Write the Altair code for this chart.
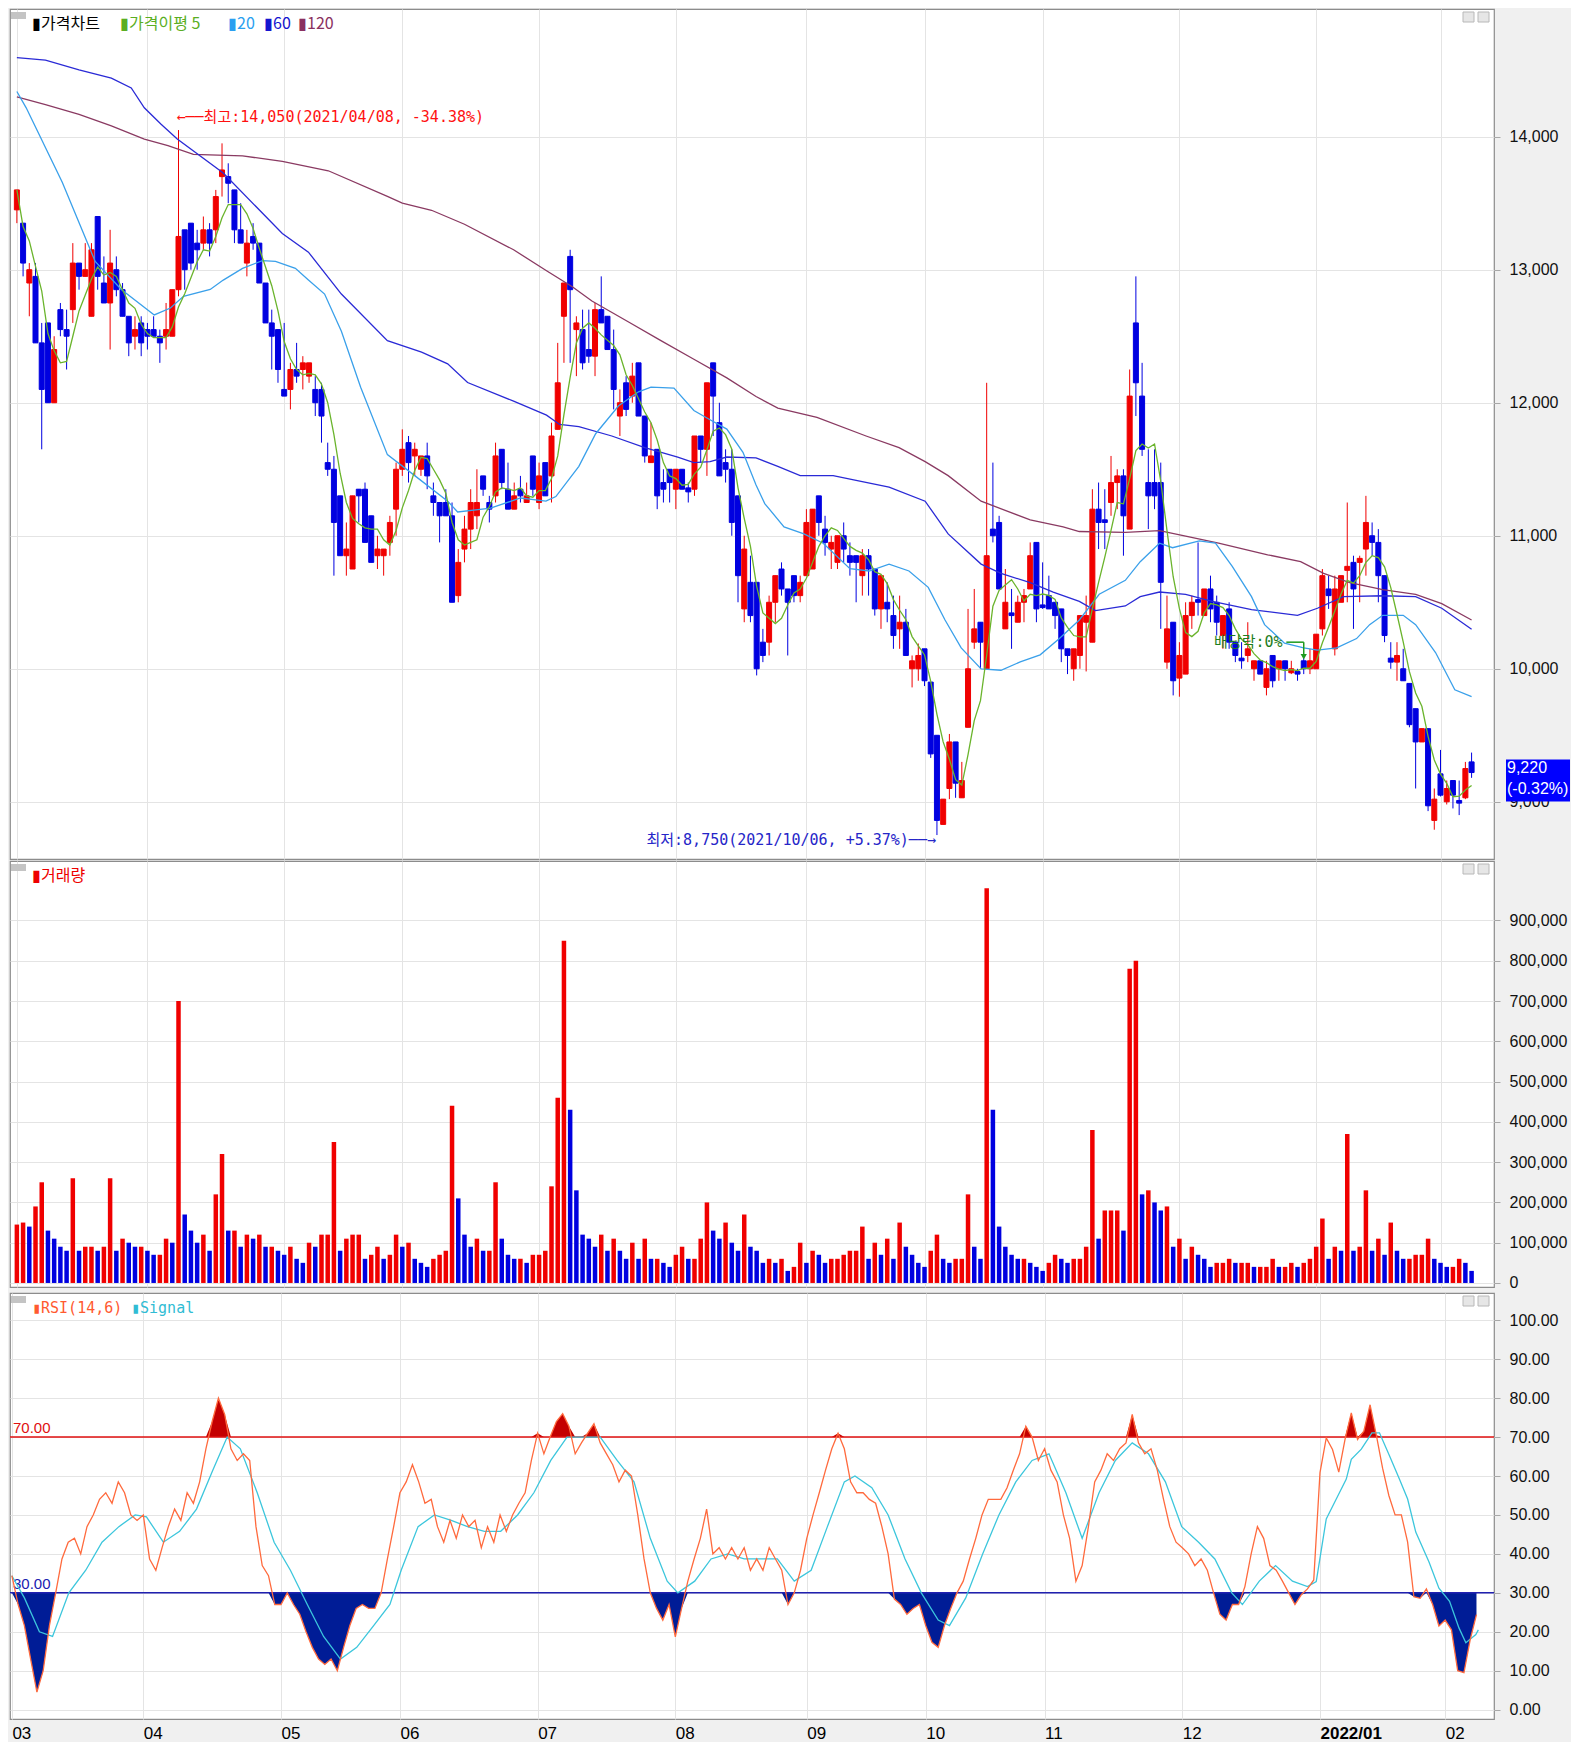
import altair as alt
import numpy as np
import pandas as pd

# ---------------------------------------------------------------- data
OPEN = [13450,13350,12900,12950,12450,12600,12000,12700,12550,12700,
        13050,12950,12650,13400,12900,12750,13000,12850,12650,12500,
        12600,12550,12550,12500,12500,12500,12850,13300,13350,13200,
        13200,13300,13300,13700,13700,13600,13300,13050,13250,13200,
        12900,12600,12550,12100,12100,12250,12250,12200,12100,12100,
        11550,11500,11300,10850,10750,11350,11350,11150,10850,10850,
        10950,11200,11500,11700,11600,11500,11600,11300,11250,11250,
        11150,10550,10900,11050,11150,11450,11250,11300,11650,11350,
        11200,11350,11250,11600,11250,11550,11450,11800,12650,13100,
        12550,12550,12400,12350,12700,12650,12400,11900,12150,12050,
        12300,11900,11550,11650,11400,11500,11350,11500,11360,11350,
        11750,11650,12300,11850,11550,11500,11300,10450,10650,10650,
        10200,10200,10500,10750,10600,10700,10550,10700,10750,11300,
        11050,10900,10800,11000,10850,10850,10700,10850,10750,10450,
        10500,10400,10300,10350,10000,10000,10150,9900,9500,8830,
        9100,9450,9030,9560,10200,10350,10000,11050,11100,10300,
        10420,10350,10500,10600,10950,10480,10550,10500,10450,10150,
        10000,10100,10350,10200,11200,11120,11250,11400,11450,11050,
        12600,12050,11400,11400,11400,10050,10350,9930,9960,10400,
        10520,10400,10600,10500,10250,10450,10200,10080,10100,10000,
        10060,9860,10100,10000,10060,9970,9980,10060,10000,10000,
        10300,10600,10150,10500,10740,10800,10800,10900,11000,10950,
        10700,10080,10050,10000,9890,9700,9450,9550,8860,9210,
        9000,9160,9010,9030,9300]
HIGH = [13600,13350,13050,13050,12600,12600,12500,12750,12700,13200,
        13050,13200,13200,13400,13100,13300,13100,12900,12650,12650,
        12650,12600,12650,12550,12750,12850,14050,13300,13350,13300,
        13400,13350,13600,13950,13800,13600,13500,13300,13350,13200,
        12900,12700,12550,12600,12300,12450,12350,12300,12200,12150,
        11700,11600,11300,11100,11300,11350,11400,11150,11000,10900,
        11150,11550,11800,11750,11700,11600,11700,11400,11250,11350,
        11250,10900,11150,11350,11500,11450,11300,11700,11650,11550,
        11400,11450,11400,11600,11550,11550,11850,12450,12900,13150,
        12650,12700,12700,12750,12950,12650,12550,12100,12200,12300,
        12300,11900,11850,11650,11500,11500,11500,11500,11400,11750,
        11750,12150,12300,12000,11650,11650,11300,11000,10850,10650,
        10300,10550,10700,10800,10600,10700,10700,11200,11200,11300,
        11150,11000,11000,11100,10950,10850,10900,10900,10750,10700,
        10650,10550,10550,10450,10100,10190,10150,9900,9500,9020,
        9510,9450,9300,10450,10600,10350,12150,11550,11150,10750,
        10600,10550,10600,10950,10950,10800,10700,10500,10450,10150,
        10150,10400,10550,11350,11400,11350,11600,11500,11500,12250,
        12950,12300,11650,11650,11550,10550,10350,10200,10500,10550,
        10950,10600,10700,10550,10400,10500,10200,10200,10350,10060,
        10060,10060,10100,10060,10060,10060,10000,10100,10150,10260,
        10750,10700,10700,10700,11250,10850,10850,11300,11100,11050,
        10700,10200,10200,10150,9890,9700,9550,9550,9100,9390,
        9160,9160,9160,9300,9370]
LOW = [13350,12950,12650,12450,11650,12000,12000,12500,12250,12600,
       12850,12950,12650,12850,12750,12400,12800,12650,12350,12400,
       12350,12400,12500,12300,12400,12500,12800,12850,13000,13000,
       13150,13100,13200,13550,13500,13200,13200,12950,13150,12900,
       12600,12250,12150,12050,11950,12150,12100,12150,11900,11700,
       11450,10700,10850,10700,10750,11100,10950,10800,10750,10700,
       10850,11000,11450,11400,11450,11450,11350,11150,10950,11150,
       10500,10500,10800,10900,11050,11300,11100,11250,11350,11200,
       11200,11250,11250,11300,11200,11300,11250,11800,12300,12300,
       12200,12250,12300,12200,12600,12400,11950,11750,11900,12000,
       11900,11550,11550,11200,11250,11250,11200,11350,11250,11300,
       11550,11450,11750,11450,11400,11000,10500,10350,10350,9950,
       10050,10100,10350,10550,10100,10500,10500,10700,10750,11000,
       10850,10750,10750,10800,10700,10500,10550,10550,10400,10300,
       10350,10150,10150,10100,9860,9910,9870,9330,8750,8830,
       9020,9030,9030,9560,10150,10000,10000,10950,10600,10300,
       10150,10350,10350,10600,10350,10450,10450,10300,10050,9960,
       9910,10000,9980,10200,10900,10900,11150,11200,10850,11050,
       11900,11600,11050,11200,10300,10000,9800,9790,9960,10300,
       10400,10400,10350,10250,10150,10150,10050,10000,10050,9910,
       9960,9800,9860,9910,9910,9960,9910,9960,9960,10000,
       10250,10450,10100,10500,10500,10300,10500,10700,10850,10500,
       10200,10000,9910,9910,9560,9100,9450,8930,8790,9040,
       8980,8950,8900,9020,9180]
CLOSE = [13600,13050,13000,12450,12100,12000,12400,12550,12500,13050,
         12950,13000,13150,12950,12750,13050,12850,12650,12450,12550,
         12450,12500,12500,12450,12550,12850,13250,13000,13050,13150,
         13300,13200,13550,13750,13650,13300,13200,13200,13200,12900,
         12600,12500,12250,12050,12250,12200,12300,12300,12000,11900,
         11500,11100,10850,10900,11300,11300,10950,10800,10900,10900,
         11100,11500,11650,11550,11650,11600,11450,11250,11150,11150,
         10500,10800,11050,11250,11250,11350,11200,11600,11400,11200,
         11300,11300,11300,11350,11450,11300,11750,12150,12900,12850,
         12600,12300,12350,12700,12600,12400,12100,12000,11950,12200,
         11900,11600,11600,11300,11350,11400,11500,11350,11330,11750,
         11650,12150,12050,11450,11500,11100,10700,10900,10400,10000,
         10100,10500,10700,10600,10500,10550,10650,11100,11200,11100,
         10950,10950,11000,10900,10800,10800,10850,10750,10450,10700,
         10450,10250,10350,10100,10060,10100,9910,9360,8860,9020,
         9450,9140,9160,10000,10300,10200,10850,11000,10600,10500,
         10400,10500,10550,10850,10450,10460,10450,10400,10150,10100,
         10150,10400,10400,11200,11100,11100,11400,11450,11150,12050,
         12150,11650,11300,11300,10650,10300,9910,10100,10400,10500,
         10500,10600,10450,10350,10400,10200,10100,10060,10150,10060,
         9960,10000,9910,10060,10000,10000,9960,10000,10060,10260,
         10700,10550,10600,10700,10770,10600,10830,11100,10950,10700,
         10250,10050,10100,9910,9580,9450,9550,8970,9020,9050,
         9100,9050,8990,9250,9220]
VOLUME_K = [145,150,140,190,250,130,110,90,80,260,
            80,90,90,80,90,260,80,110,100,90,
            90,80,70,70,110,100,700,170,130,100,
            120,80,220,320,130,130,90,120,110,120,
            90,90,80,70,90,60,50,100,90,120,
            120,350,80,110,120,120,60,70,90,60,
            70,120,90,100,60,50,40,60,70,80,
            440,210,120,90,110,80,80,250,110,70,
            60,60,50,70,70,80,240,460,850,430,
            230,120,110,90,120,80,110,80,60,100,
            60,110,60,60,50,40,70,90,60,60,
            110,200,130,110,150,100,80,170,90,80,
            50,60,50,60,30,40,100,50,80,70,
            50,60,60,70,80,80,140,60,100,70,
            110,60,150,90,70,50,40,80,120,60,
            50,60,60,220,90,60,980,430,140,90,
            70,60,60,50,40,30,50,70,60,50,
            60,60,90,380,110,180,180,180,130,780,
            800,220,230,200,180,190,90,110,60,90,
            70,60,40,50,50,60,50,50,50,40,
            40,40,60,40,40,50,40,50,60,90,
            160,60,90,80,370,80,90,230,80,110,
            70,150,80,60,60,70,70,110,60,50,
            40,40,60,50,30]
RSI = [34.4,27,21.6,13,4.5,10,21.6,30,38.7,43,
       44,40,47,50,54,55.7,53,58.5,55.7,50,
       48.6,50,38.7,35.8,41.6,47,51.5,48.6,55.7,53,
       58.5,67,74,80,75.8,67,64,65.7,64,47,
       37,34.4,27,27,30,27,24.5,20,16,13,
       11.6,13,10,16,21.6,26,27,26,26,30,
       38.7,47,55.7,58.5,62.9,58.5,53,54,47,43,
       48.6,44,50,47,48.6,41.6,47,43,50,45.8,
       50,53,55.7,64,71,65.7,70,74,76,72.8,
       65.7,68.5,71,73.4,68.5,65.7,62.9,58.5,61.5,60,
       50,38.7,30,26,23,27,18.7,26,33,38.7,
       44,51.5,40,41.6,38.7,41.6,38.7,41.6,35.8,38.7,
       35.8,41.6,38.7,35.8,27,30,35.8,44,50,55.7,
       61.5,67,71,67,58.5,55.7,55.7,54,53,47,
       40,28.4,27,24.5,26,27,21.6,17.3,16,21.6,
       26,30,33,38.7,44,50,54,54,54,57,
       61.5,65.7,72.8,70,64,67,61.5,58.5,50,44,
       33,37,47,58.5,61.5,65.7,64,67,68.5,75.8,
       68.5,65.7,67,61.5,54,47,43,41.6,40,37,
       38.7,35.8,30,24.5,23,27,27,31.6,40,47,
       44,37,35.8,33,30,27,29.5,31,33.3,60.9,
       69.8,66.8,61,69.4,76.2,69.4,71.5,78.3,70.5,62,
       55,50,50,43,29,28.6,31,27,21.5,23,
       20.5,10,9.5,18,24.4]
SIGNAL_X = [0,2,4.4,6.5,9.1,11.8,14.4,17.1,19.7,21.5,24.2,26.8,29.5,32.1,34.4,36.5,39.2,41.9,
            44.5,47.2,49.8,52.5,55.1,57.8,60.4,62.2,64.9,67.5,70.2,72.8,75.5,78.1,80.8,83.4,
            86.1,88.7,91.4,94,96.7,99.4,102,104.7,106.4,109.1,111.7,114.4,117,119.7,122.3,125,
            127.7,130.3,133,134.7,137.4,140,142.7,145.3,148,149.8,152.4,155.1,157.7,160.4,163,
            165.7,168.4,171,173.7,176.3,179,181.6,184.3,186.9,189.6,192.2,194.9,196.6,199.3,
            201.9,204.6,207,208.4,210,211.6,213.2,214,215.6,217.3,218.5,220.1,221.7,223,224.3,
            226.4,228,229.7,231.2,232.3,233.9,234.3]
SIGNAL_Y = [34.4,28.7,20,18.8,30,35.8,43,47,50,49.5,43,45.8,51.5,61.5,70,67,55.7,43,
            35.8,27,18.8,13,16,21.6,27,35.8,47,50,48.6,47,45.8,45.8,50,55.7,
            64,70,70,70,64,58.5,44,33,30,33,38.7,40,38.7,38.7,38.7,33,
            35.8,47,58.5,60,57,50,38.7,30,23,21.6,28.7,40,50,58.5,64,
            65.7,55.7,44,55.7,64,68.5,65.7,58.5,47,43,38.7,30,27,33,
            37,33,31.6,32.9,49,54.1,59.2,64.3,66.9,71.1,71.1,65.2,59.2,54.1,45.6,
            38,31.2,27.8,21,17.2,19.3,20.5]
MA20_X = [0,1.5,7.3,12.6,16.8,22.1,24.7,26.8,31.1,33.2,36.3,39.5,41.6,44.8,46.9,49.5,52.2,55.3,59.6,
          64,69.3,70.9,76.2,81,85.1,86.7,90.4,93.1,96.8,100,102,105.7,108.9,111.5,114.2,116.8,118.9,
          120.3,123.4,126.6,129.7,134,137.1,140.3,143.5,146.6,149.3,151.9,155.1,158.3,161.4,164.6,
          167.7,170.9,174.1,178.3,180.7,183.8,185.9,190.2,192.8,195.5,198.6,200.7,203.9,207,209.2,
          212.3,215.5,217.6,219.7,223,225,228.2,231.3,234]
MA20_Y = [14340,14217,13657,13062,12852,12660,12712,12800,12852,12922,13010,13069,13062,13010,12922,12817,12537,12117,11610,
          11452,11260,11179,11207,11284,11260,11295,11522,11767,11977,12082,12117,12110,11942,11872,11802,11627,11382,
          11242,11067,11014,10944,10752,10735,10787,10735,10612,10367,10157,9999,9989,10052,10105,
          10227,10367,10560,10665,10805,10944,10910,10962,10944,10770,10542,10332,10192,10157,10140,
          10157,10227,10332,10402,10402,10332,10122,9842,9790]
MA60_X = [0,4.6,10,15.2,18.4,20.5,23.2,25.8,33.2,42.7,46.9,52.2,59.6,65.1,69.3,72.5,79.9,85.2,87.3,90.4,
          95.7,101,106.3,108.9,111.5,114.2,118.9,122.4,126,131.3,135,140.3,146.1,149.8,155.1,158.3,163,
          166.7,170.9,173.5,178.3,180.7,183.8,188,192.3,198.6,206,209.2,213.4,219.7,225,229.2,234]
MA60_Y = [14594,14576,14502,14440,14366,14217,14094,13982,13727,13272,13132,12817,12467,12380,12292,12152,12012,11907,11837,11820,
          11750,11662,11592,11550,11557,11592,11585,11522,11452,11452,11417,11365,11260,11014,10787,10717,10647,
          10577,10507,10437,10472,10542,10577,10560,10507,10444,10402,10455,10542,10549,10542,10455,10297]
MA120_X = [0,4.6,10,15.2,20.5,24.3,28.4,36.3,42.7,50.1,59.6,62,66.7,72,79.9,85.2,89.4,92.5,98.4,103.6,
           108.9,114.2,118.9,122.4,128.7,136.6,141.9,146.1,149.8,155.1,163,168.3,170.9,178.3,183.8,188,
           193.3,201.2,206.5,210.2,214.4,219.7,225,229.2,234]
MA120_Y = [14300,14242,14168,14082,13982,13933,13867,13856,13814,13744,13552,13500,13447,13342,13150,12992,12870,12765,12607,12467,
           12327,12187,12047,11960,11890,11750,11662,11557,11452,11260,11119,11067,11032,11025,11039,10997,
           10944,10857,10805,10717,10647,10595,10560,10490,10367]

MONTH_IDX = [0, 21, 43, 62, 84, 106, 127, 146, 165, 187, 209, 229]
MONTH_LABELS = ["03", "04", "05", "06", "07", "08", "09", "10", "11", "12", "2022/01", "02"]
PRICE_TICKS = [9000, 10000, 11000, 12000, 13000, 14000]
VOLUME_TICKS = [0, 100000, 200000, 300000, 400000, 500000, 600000, 700000, 800000, 900000]
RSI_TICKS = [0, 10, 20, 30, 40, 50, 60, 70, 80, 90, 100]
RSI_LEVELS = [70, 30]
HIGH_POINT = [26, 14050, "2021/04/08"]
LOW_POINT = [148, 8750, "2021/10/06"]
EXDIV_IDX = 207
EXDIV_LEVELS = [10200, 10090]
EXDIV_TEXT = "배당락:0%"

# ---------------------------------------------------------------- frames
N = len(CLOSE)
df = pd.DataFrame({"i": range(N), "o": OPEN, "h": HIGH, "l": LOW, "c": CLOSE,
                   "v": [k * 1000 for k in VOLUME_K], "rsi": RSI})
df["dir"] = np.where(df["c"] >= df["o"], "up", "down")
df["vdir"] = np.where(df["v"] >= df["v"].shift(1).fillna(0), "up", "down")
df["ma5"] = df["c"].rolling(5, min_periods=1).mean()
df["zero"] = 0

W = 1484
EXT = 76
HP, HV, HR = 850, 426, 426
RED, BLUE = "#f00000", "#0000e0"
NUMF = "Liberation Sans Narrow, Liberation Sans, DejaVu Sans, sans-serif"
KRF = "Noto Sans CJK KR, Noto Sans, sans-serif"
MONOKR = "DejaVu Sans Mono, Noto Sans CJK KR, monospace"
ONE = pd.DataFrame({"k": [0]})

XS = alt.Scale(domain=[-0.3, 236.8], nice=False, zero=False)
grid_x = alt.Axis(values=MONTH_IDX, labels=False, ticks=False, domain=False, grid=True, title=None)
label_expr = " : ".join(f"datum.value == {m} ? '{t}'" for m, t in zip(MONTH_IDX, MONTH_LABELS)) + " : ''"
bottom_x = alt.Axis(values=MONTH_IDX, labelExpr=label_expr, grid=True, ticks=False, domain=False,
                    labelAlign="left", labelBaseline="top", labelPadding=6, labelFontSize=17,
                    labelFont=NUMF, labelColor="#000000", labelFlush=False, labelOverlap=False,
                    labelFontWeight={"condition": {"test": f"datum.value == {MONTH_IDX[10]}", "value": "bold"},
                                     "value": "normal"},
                    title=None)
X = alt.X("i:Q", scale=XS, axis=grid_x)
XB = alt.X("i:Q", scale=XS, axis=bottom_x)


def yaxis(values, fmt):
    return alt.Axis(orient="right", values=values, format=fmt, title=None, grid=True, tickSize=6,
                    labelPadding=9, labelFontSize=16, labelFont=NUMF, labelColor="#111111",
                    tickColor="#a8a8a8", domain=False, minExtent=EXT, maxExtent=EXT)


DIR = alt.Scale(domain=["up", "down"], range=[RED, BLUE])


def txt(text, x, y, color, size=16, font=KRF):
    return alt.Chart(ONE).mark_text(text=text, align="left", baseline="middle", color=color,
                                    fontSize=size, font=font).encode(x=alt.value(x), y=alt.value(y))


def icons():
    a = alt.Chart(ONE).mark_rect(fill="#c4c4c4").encode(
        x=alt.value(1), x2=alt.value(16), y=alt.value(3), y2=alt.value(10))
    b = alt.Chart(ONE).mark_rect(fill="#e6e6e6", stroke="#b8b8b8").encode(
        x=alt.value(W - 31), x2=alt.value(W - 20), y=alt.value(3), y2=alt.value(13))
    c = alt.Chart(ONE).mark_rect(fill="#e6e6e6", stroke="#b8b8b8").encode(
        x=alt.value(W - 16), x2=alt.value(W - 5), y=alt.value(3), y2=alt.value(13))
    return [a, b, c]


# ---------------------------------------------------------------- price panel
PS = alt.Scale(domain=[8570, 14960], nice=False, zero=False)
PAX = yaxis(PRICE_TICKS, ",.0f")


def PY(f):
    return alt.Y(f"{f}:Q", scale=PS, axis=PAX)


base = alt.Chart(df)
wick = base.mark_rule(strokeWidth=1).encode(
    x=X, y=PY("l"), y2=alt.Y2("h"), color=alt.Color("dir:N", scale=DIR, legend=None))
body = base.mark_bar(width=5, strokeWidth=1).encode(
    x=X, y=PY("o"), y2=alt.Y2("c"),
    color=alt.Color("dir:N", scale=DIR, legend=None),
    stroke=alt.Stroke("dir:N", scale=DIR, legend=None))


def ma_line(xs, ys, color):
    return alt.Chart(pd.DataFrame({"i": xs, "m": ys})).mark_line(
        color=color, strokeWidth=1.3).encode(x=X, y=PY("m"))


ma120 = ma_line(MA120_X, MA120_Y, "#8a3a62")
ma60 = ma_line(MA60_X, MA60_Y, "#2a2ad6")
ma20 = ma_line(MA20_X, MA20_Y, "#3aa0ea")
ma5 = base.mark_line(color="#6ab42c", strokeWidth=1.3).encode(x=X, y=PY("ma5"))

last = CLOSE[-1]
hi_text = f"←──최고:{HIGH_POINT[1]:,}({HIGH_POINT[2]}, {(last / HIGH_POINT[1] - 1) * 100:+.2f}%)"
lo_text = f"최저:{LOW_POINT[1]:,}({LOW_POINT[2]}, {(last / LOW_POINT[1] - 1) * 100:+.2f}%)──→"
hi_lab = alt.Chart(pd.DataFrame({"i": [HIGH_POINT[0]], "p": [HIGH_POINT[1]], "t": [hi_text]})).mark_text(
    align="left", baseline="middle", dx=-2, dy=-13, color="#ff1010", fontSize=15, font=MONOKR
).encode(x=X, y=PY("p"), text="t:N")
lo_lab = alt.Chart(pd.DataFrame({"i": [LOW_POINT[0]], "p": [LOW_POINT[1]], "t": [lo_text]})).mark_text(
    align="right", baseline="middle", dx=-1, dy=5, color="#2626c8", fontSize=15, font=MONOKR
).encode(x=X, y=PY("p"), text="t:N")

ex_text = alt.Chart(pd.DataFrame({"i": [EXDIV_IDX - 3.4], "p": [EXDIV_LEVELS[0]], "t": [EXDIV_TEXT]})).mark_text(
    align="right", baseline="middle", color="#1e7d1e", fontSize=15, font=MONOKR
).encode(x=X, y=PY("p"), text="t:N")
ex_seg = alt.Chart(pd.DataFrame({"i": [EXDIV_IDX - 2.8, EXDIV_IDX], "i2": [EXDIV_IDX, EXDIV_IDX],
                                 "p": [EXDIV_LEVELS[0], EXDIV_LEVELS[0]],
                                 "p2": [EXDIV_LEVELS[0], EXDIV_LEVELS[1]]})).mark_rule(
    color="#1e9a1e", strokeWidth=1.5).encode(x=X, x2=alt.X2("i2"), y=PY("p"), y2=alt.Y2("p2"))
ex_head = alt.Chart(pd.DataFrame({"i": [EXDIV_IDX], "p": [EXDIV_LEVELS[1]]})).mark_point(
    shape="triangle-down", filled=True, color="#1e9a1e", size=40, opacity=1).encode(x=X, y=PY("p"))

prev = CLOSE[-2]
box_df = pd.DataFrame({"p": [last], "t1": [f"{last:,}"], "t2": [f"({(last / prev - 1) * 100:.2f}%)"]})
box = alt.Chart(box_df).mark_rect(color="#0000ff", yOffset=-13, y2Offset=29).encode(
    x=alt.value(W + 12), x2=alt.value(W + EXT), y=PY("p"), y2=alt.Y2("p"))
box_t1 = alt.Chart(box_df).mark_text(align="left", baseline="middle", dy=-5, color="white",
                                     fontSize=16, font=NUMF).encode(
    x=alt.value(W + 13), y=PY("p"), text="t1:N")
box_t2 = alt.Chart(box_df).mark_text(align="left", baseline="middle", dy=16, color="white",
                                     fontSize=16, font=NUMF).encode(
    x=alt.value(W + 13), y=PY("p"), text="t2:N")

price_legend = [
    txt("▮가격차트", 22, 15, "#000000"),
    txt("▮가격이평 5", 110, 15, "#5aae22"),
    txt("▮20", 218, 15, "#2a9ff0"),
    txt("▮60", 254, 15, "#1515d0"),
    txt("▮120", 288, 15, "#8a3060"),
]

price = alt.layer(wick, body, ma120, ma60, ma20, ma5, hi_lab, lo_lab, ex_text, ex_seg, ex_head,
                  box, box_t1, box_t2, *price_legend, *icons()).properties(width=W, height=HP)

# ---------------------------------------------------------------- volume panel
VS = alt.Scale(domain=[-10000, 1047700], nice=False, zero=False)
vbars = base.mark_bar(width=4.5).encode(
    x=X, y=alt.Y("v:Q", scale=VS, axis=yaxis(VOLUME_TICKS, ",.0f")), y2=alt.Y2("zero"),
    color=alt.Color("vdir:N", scale=DIR, legend=None))
volume = alt.layer(vbars, txt("▮거래량", 22, 15, "#ee0000"), *icons()).properties(width=W, height=HV)

# ---------------------------------------------------------------- RSI panel
RS = alt.Scale(domain=[-2.4, 107], nice=False, zero=False)
RAX = yaxis(RSI_TICKS, ".2f")


def RY(f):
    return alt.Y(f"{f}:Q", scale=RS, axis=RAX)


rbase = alt.Chart(df).transform_calculate(
    hi70="max(datum.rsi, 70)", lo30="min(datum.rsi, 30)", b70="70", b30="30")
over = rbase.mark_area(color="#c40000").encode(x=XB, y=RY("hi70"), y2=alt.Y2("b70"))
under = rbase.mark_area(color="#001c96").encode(x=XB, y=RY("lo30"), y2=alt.Y2("b30"))
lv = pd.DataFrame({"lvl": RSI_LEVELS, "col": ["#e01010", "#2020b0"],
                   "lab": [f"{v:.2f}" for v in RSI_LEVELS]})
lv_rule = alt.Chart(lv).mark_rule(strokeWidth=1.5).encode(y=RY("lvl"), color=alt.Color("col:N", scale=None))
lv_text = alt.Chart(lv).mark_text(align="left", baseline="middle", dy=-9, fontSize=15, font=NUMF).encode(
    x=alt.value(3), y=RY("lvl"), text="lab:N", color=alt.Color("col:N", scale=None))
rsi_line = rbase.mark_line(color="#ff6a3d", strokeWidth=1.3).encode(x=XB, y=RY("rsi"))
sig_line = alt.Chart(pd.DataFrame({"i": SIGNAL_X, "s": SIGNAL_Y})).mark_line(
    color="#3cc6dc", strokeWidth=1.3).encode(x=XB, y=RY("s"))

rsi = alt.layer(over, under, lv_rule, lv_text, sig_line, rsi_line,
                txt("▮RSI(14,6)", 22, 15, "#ff5a30", 15, MONOKR),
                txt("▮Signal", 121, 15, "#30bcd4", 15, MONOKR),
                *icons()).properties(width=W, height=HR)

chart = alt.vconcat(price, volume, rsi, spacing=0).properties(
    background="#f0f0f0", padding=0
).configure_view(stroke="#8c8c8c", strokeWidth=1.2, fill="#ffffff").configure_axis(
    gridColor="#e4e4e4", gridWidth=1)

chart.save("out.html", embed_options={"renderer": "svg", "actions": False})
